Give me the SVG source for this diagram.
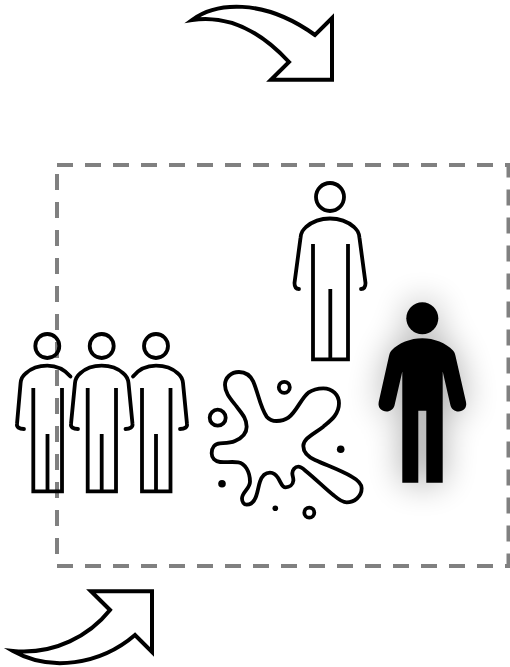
<svg xmlns="http://www.w3.org/2000/svg" width="510" height="667" viewBox="0 0 510 667">
<style>
.ln{fill:none;stroke:#000;stroke-width:3.800;stroke-linecap:round;stroke-linejoin:round}
.bt{fill:none;stroke:#000;stroke-width:3.800;stroke-linecap:butt;stroke-linejoin:miter}
.ar{fill:#fff;stroke:#000;stroke-width:4;stroke-linejoin:miter;stroke-miterlimit:12}
.dot{fill:#000}
</style>
<defs>
<filter id="glow" x="-120%" y="-50%" width="340%" height="200%"><feGaussianBlur stdDeviation="17"/></filter>
</defs>
<rect width="510" height="667" fill="#fff"/>
<g id="boundary"><rect x="57" y="165" width="451.500" height="401" fill="none" stroke="#808080" stroke-width="4" stroke-dasharray="16 12"/></g>
<g id="connectors">
<path class="ar" d="M192 20C215 3 262 -3 315 35L332 18V79.700H271L289 62C265 36 232 14 192 20Z"/>
<path class="ar" d="M13 651C55 655 90 635 110 610L91 591.300H152V652L135 635C100 665 50 672 13 651Z"/>
</g>
<g id="person-top">
<circle class="ln" cx="330" cy="197" r="14"/>
<path class="ln" d="M299 289C296 289 294.500 287 294.500 283L300.500 238C301 232 303 230 306 227C313 221 322 218.500 330 218.500C338 218.500 347 221 354 227C357 230 359 232 359.500 238L365.500 283C365.500 287 364 289 361 289"/>
<path class="bt" d="M313 244V359.300H348V244M330.300 289V359.300"/>
</g>
<g id="person-group-1">
<circle class="ln" cx="47.300" cy="346" r="12"/>
<path class="ln" d="M24 429C19 429 16.500 427 17 424L20.600 383C21 378 22.500 376 25.600 373.500C31.600 368 39.600 365.700 47.300 365.700C55 365.700 64 369 70.500 376.500"/>
<path class="bt" d="M33.300 388V491.300H62V388M47.500 434V491.300"/>
</g>
<g id="person-group-2">
<circle class="ln" cx="101.700" cy="346" r="12"/>
<path class="ln" d="M78 429C73 429 70.500 427 71 424L75 383C75.500 378 77 376 80 373.500C86 368 94 365.700 101.700 365.700C109.500 365.700 117.500 368 123.500 373.500C126.500 376 128 378 128.500 383L132.500 424C133 427 130 429 125.500 429"/>
<path class="bt" d="M87.700 388V491.300H116V388M101.700 434V491.300"/>
</g>
<g id="person-group-3">
<circle class="ln" cx="156" cy="346" r="12"/>
<path class="ln" d="M133 376.500C139 369 147.500 365.700 156 365.700C164 365.700 172 368 178 373.500C181 376 182.500 378 183 383L187 424C187.500 427 185 429 180 429"/>
<path class="bt" d="M142 388V491.300H170.500V388M156 434V491.300"/>
</g>
<g id="splat">
<g transform="translate(195 360) scale(.3333)">
<path fill="none" stroke="#000" stroke-width="11.500" d="M90 75C90 53 108 36 132 36C152 36 167 48 175 65C190 100 195 140 215 170C222 178 233 183 245 183C258 183 270 180 280 173C305 155 318 115 340 98C353 89 368 85 385 85C412 85 432 105 432 130C432 165 405 183 385 200C355 223 325 235 325 258C325 280 345 293 360 300C400 318 440 332 470 350C488 360 500 370 500 385C500 410 478 427 455 427C440 427 428 416 415 405C390 385 362 357 335 335C325 327 318 320 310 320C300 320 292 330 292 340C292 348 296 354 295 362C294 375 283 382 272 382C260 382 258 367 250 355C244 345 235 338 225 338C210 338 200 350 195 365C188 385 188 405 178 420C173 429 165 434 155 434C147 434 141 426 141 415C141 398 165 385 165 365C165 335 150 310 130 307C110 304 92 308 75 306C60 304 50 294 50 280C50 262 60 251 75 250C90 249 105 250 120 243C140 234 155 220 155 200C155 175 140 160 125 140C108 118 90 100 90 75Z"/>
</g>
<circle class="ln" cx="217.700" cy="417.700" r="8"/>
<circle class="ln" cx="284.300" cy="387.300" r="5.500"/>
<circle class="ln" cx="309.300" cy="512.700" r="5"/>
<circle class="dot" cx="340.700" cy="449.300" r="3.800"/>
<circle class="dot" cx="222" cy="483.700" r="3.800"/>
<circle class="dot" cx="275.300" cy="508.300" r="2.800"/>
</g>
<g id="person-solid">
<g filter="url(#glow)" fill="#000" opacity=".32">
<circle cx="422.300" cy="318.300" r="16"/>
<path d="M422.300 338C435 338 447 343 454 351L466 402C466.500 410 460 412 456 411.500C450 411 446 406 445 402L442.700 371V482.700H402.300V371L391 403C389 409 385 412 380 411.500C378 410 378 405 378.500 402L390.700 351C397 343 410 338 422.300 338Z"/>
</g>
<circle cx="422.300" cy="318.300" r="16"/>
<path d="M422.300 338.300C434 338.300 446 343 453 350.500C454.500 352 455 354 455.500 356L466 402C467.300 408 463 411.500 458.500 411.500C454.500 411.500 451.500 409 450.500 405.500L442.700 371.500V482.700H426.300V410.700H418.300V482.700H402.300V371.500L394.500 405.500C393.500 409 390.500 411.500 386.500 411.500C382 411.500 377.500 408 378.700 402L389 356C389.500 354 390 352 391.500 350.500C398.500 343 410.500 338.300 422.300 338.300Z"/>
</g>
</svg>
